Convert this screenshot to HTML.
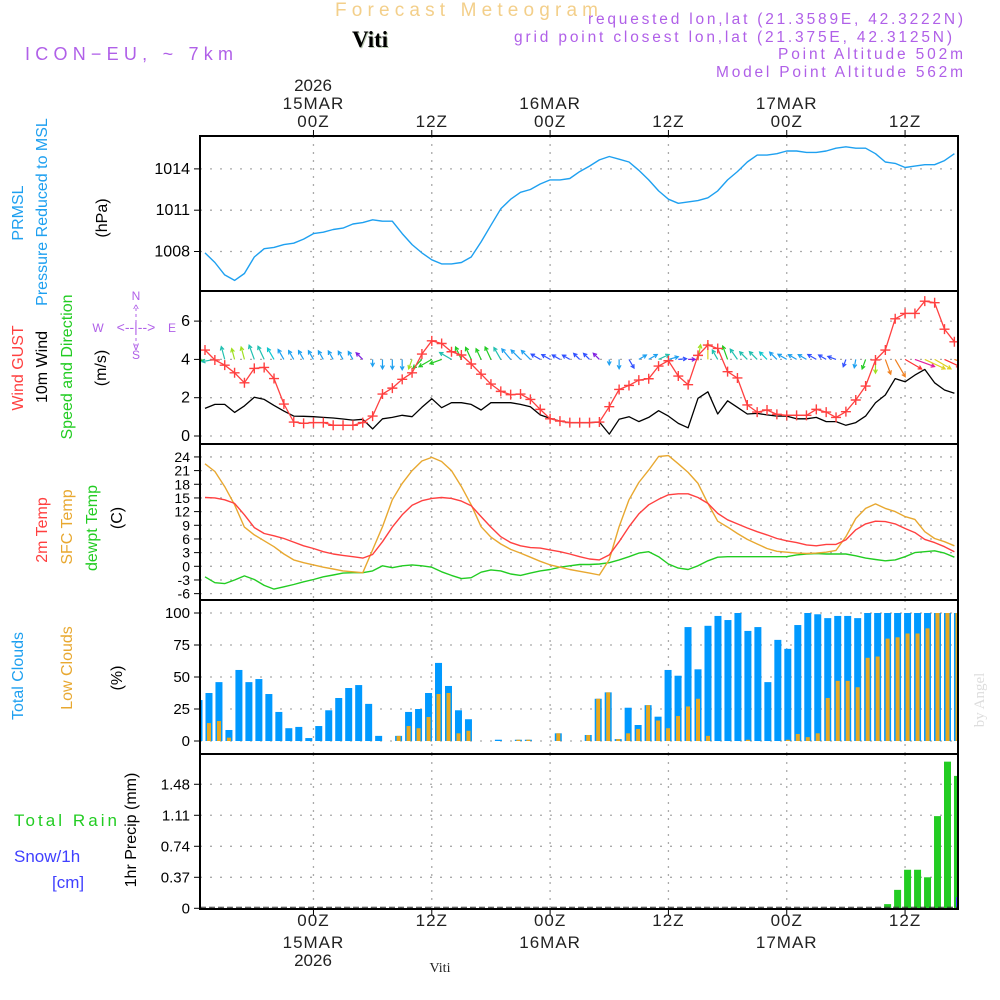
<!DOCTYPE html>
<html><head><meta charset="utf-8"><style>
body{margin:0;background:#fff;}
svg{display:block;font-family:"Liberation Sans",sans-serif;}
</style></head><body>
<svg id="chart" width="1000" height="1000" viewBox="0 0 1000 1000" xmlns="http://www.w3.org/2000/svg">
<defs><clipPath id="plotclip"><rect x="200" y="136" width="758" height="774"/></clipPath></defs>
<g>
<text x="335" y="16" font-size="19" fill="#f3cf8a" textLength="263" lengthAdjust="spacing">Forecast Meteogram</text>
<text x="353" y="48" font-size="23" font-weight="bold" fill="#b8c8b0" font-family="Liberation Serif,serif">Viti</text>
<text x="352" y="47" font-size="23" font-weight="bold" fill="#000" font-family="Liberation Serif,serif">Viti</text>
<text x="25" y="60" font-size="18" fill="#b060e8" textLength="208" lengthAdjust="spacing">ICON−EU, ~ 7km</text>
<text x="588" y="24" font-size="15.5" fill="#b060e8" textLength="375" lengthAdjust="spacing">requested lon,lat (21.3589E, 42.3222N)</text>
<text x="514" y="42" font-size="15.5" fill="#b060e8" textLength="438" lengthAdjust="spacing">grid point closest lon,lat (21.375E, 42.3125N)</text>
<text x="778" y="59" font-size="15.5" fill="#b060e8" textLength="185" lengthAdjust="spacing">Point Altitude 502m</text>
<text x="716" y="77" font-size="15.5" fill="#b060e8" textLength="247" lengthAdjust="spacing">Model Point Altitude 562m</text>
<text transform="translate(984,700) rotate(-90)" text-anchor="middle" font-size="15" fill="#dddddd" font-family="Liberation Serif,serif">by Angel</text>
</g>
<g id="grid"></g>
<g id="marks" clip-path="url(#plotclip)"></g>
<g id="frames"></g>
<g id="labels"></g>
</svg>
<script>
// ---------- data (hourly, index 0 = 13Z 14MAR) ----------
const timeTickHours = [11, 23, 35, 47, 59, 71];
const timeTickTop = ["00Z","12Z","00Z","12Z","00Z","12Z"];
const dateLabels = ["15MAR","16MAR","17MAR"];
const pressure = [1007.9,1007.2,1006.3,1005.9,1006.4,1007.6,1008.2,1008.3,1008.5,1008.6,1008.9,1009.3,1009.4,1009.6,1009.7,1010.0,1010.1,1010.3,1010.2,1010.2,1009.3,1008.5,1007.9,1007.4,1007.1,1007.1,1007.2,1007.6,1008.7,1009.9,1011.1,1011.8,1012.3,1012.5,1012.9,1013.2,1013.2,1013.3,1013.8,1014.2,
1014.65,1014.9,1014.7,1014.5,1013.9,1013.2,1012.4,1011.8,1011.5,1011.6,1011.7,1011.9,1012.4,1013.2,1013.8,1014.5,1015.0,1015.0,1015.1,1015.3,1015.3,1015.2,1015.2,1015.3,1015.5,1015.6,1015.5,1015.5,1015.1,1014.5,1014.4,1014.1,1014.2,1014.3,1014.3,1014.6,1015.1];
const pressureTicks = [1008,1011,1014];
const gust = [4.49,3.97,3.7,3.3,2.78,3.53,3.58,3.0,1.67,0.73,0.66,0.7,0.7,0.56,0.56,0.56,0.7,1.04,2.19,2.5,2.96,3.3,4.28,4.97,4.83,4.4,4.23,3.76,3.23,2.71,2.33,2.16,2.19,1.91,1.39,0.9,0.78,0.7,0.7,0.7,
0.73,1.53,2.43,2.64,2.92,2.99,3.65,3.93,3.13,2.68,4.21,4.75,4.57,3.36,3.03,1.62,1.25,1.36,1.13,1.08,1.08,1.08,1.39,1.25,0.97,1.27,1.88,2.61,3.97,4.49,6.12,6.4,6.4,7.04,6.96,5.58,4.92];
const wind10 = [1.44,1.65,1.65,1.23,1.57,2.02,1.91,1.6,1.3,1.04,1.03,1.01,0.97,0.94,0.89,0.83,0.87,0.37,0.9,0.97,1.08,1.01,1.5,1.95,1.48,1.74,1.74,1.65,1.36,1.74,1.74,1.74,1.65,1.53,1.1,0.92,0.78,0.7,0.7,0.7,
0.73,0.1,0.87,1.01,0.75,0.97,1.32,1.04,0.66,0.43,1.97,2.31,1.15,1.84,1.5,1.15,1.18,1.1,1.04,1.04,0.9,0.9,0.97,0.75,0.75,0.56,0.7,1.04,1.74,2.14,3.0,2.83,3.18,3.48,2.78,2.4,2.23];
const windDir = [255,260,345,345,345,340,335,330,330,330,330,330,330,330,330,330,315,180,180,180,180,200,225,240,250,300,335,335,335,335,330,320,315,315,300,300,300,300,315,315,
315,180,180,150,60,60,65,75,85,90,10,0,330,340,325,315,315,315,315,300,300,300,300,300,290,200,190,200,180,160,150,120,110,115,120,115,110];
const windColor = ["#22cc22","#20c0b0","#20c0b0","#a0e020","#a0e020","#20c0b0","#20c0b0","#10c8d0","#1ea0f0","#1ea0f0","#1ea0f0","#1ea0f0","#1ea0f0","#1ea0f0","#1ea0f0","#1ea0f0","#8020e0","#1ea0f0","#1ea0f0","#1ea0f0","#1ea0f0","#a0e020","#22cc22","#22cc22","#22cc22","#20c0b0","#22cc22","#22cc22","#22cc22","#22cc22","#20c0b0","#1ea0f0","#1ea0f0","#1ea0f0","#3050ff","#3050ff","#3050ff","#3050ff","#3050ff","#3050ff",
"#8020e0","#1ea0f0","#1ea0f0","#3050ff","#1ea0f0","#1ea0f0","#20c0b0","#1ea0f0","#3050ff","#8020e0","#a0e020","#e0d020","#20c0b0","#22cc22","#20c0b0","#20c0b0","#20c0b0","#10c8d0","#1ea0f0","#1ea0f0","#1ea0f0","#1ea0f0","#3050ff","#3050ff","#3050ff","#3050ff","#1ea0f0","#22cc22","#a0e020","#f08020","#f08020","#ff3030","#e020a0","#e0d020","#e0d020","#ff3030","#f08020"];
const windTicks = [0,2,4,6];
const temp2m = [15.1,15.0,14.6,13.8,11.3,8.5,7.2,6.7,6.1,5.3,4.5,3.9,3.2,2.7,2.4,2.1,1.8,2.6,5.4,8.6,11.3,13.4,14.4,14.9,15.1,14.9,14.3,13.3,10.9,8.6,6.5,5.2,4.5,4.1,4.0,3.6,3.2,2.7,2.1,1.6,
1.4,2.5,5.4,8.7,11.5,13.5,14.7,15.7,15.9,15.9,15.1,13.8,11.6,10.2,9.3,8.4,7.6,6.9,6.1,5.6,5.2,4.7,4.5,4.8,4.8,5.8,8.0,9.3,9.9,9.8,9.3,8.3,7.4,5.9,5.2,4.3,3.2];
const tempSfc = [22.5,20.8,17.5,13.5,8.6,6.9,5.6,4.3,2.7,1.4,0.8,0.3,-0.2,-0.6,-1.0,-1.2,-1.4,3.6,8.7,14.6,18.2,21.0,23.1,23.9,23.0,21.0,17.5,13.5,8.7,6.4,4.9,3.7,2.9,2.0,1.1,0.3,-0.2,-0.7,-1.1,-1.5,
-1.9,1.5,8.7,14.6,18.4,21.1,24.1,24.3,22.5,20.6,18.2,13.8,9.9,8.6,7.2,5.9,4.9,3.9,3.3,3.1,2.9,2.8,2.9,3.1,3.5,6.5,10.5,12.7,13.7,12.7,12.0,10.9,10.3,7.6,6.1,5.4,4.5];
const dewpt = [-2.3,-3.6,-3.8,-3.0,-2.1,-2.9,-4.2,-5.0,-4.5,-4.0,-3.4,-2.9,-2.3,-1.9,-1.5,-1.4,-1.4,-1.0,0.1,-0.3,0.1,0.3,0.1,-0.2,-1.2,-2.0,-2.7,-2.5,-1.3,-0.8,-1.0,-1.7,-2.0,-1.5,-1.0,-0.7,-0.2,0.1,0.4,0.4,
0.5,0.8,1.4,2.1,2.9,3.2,2.1,0.5,-0.4,-0.7,0.1,1.2,2.0,2.1,2.1,2.1,2.1,2.1,2.1,2.1,2.5,2.7,2.8,2.7,2.7,2.7,2.3,1.8,1.5,1.2,1.4,2.1,3.0,3.2,3.4,2.9,2.0];
const tempTicks = [-6,-3,0,3,6,9,12,15,18,21,24];
const cloudTotal = [32,37.5,46,8.6,55.5,46,48.4,36.7,22.7,10,11,2.3,11.7,24,33.6,41.4,43.7,29,4,0,4,22.7,25,37.5,61,43,24,17,0,0,1,0,1,1,0,0,6,0,0,4.7,
33,38,1.5,26,12.5,28,19,55.5,51,89,56,90,97.7,94.5,100,86,89,46,79,72,90.6,100,99,96,97.7,97.7,96,100,100,100,100,100,100,100,100,100,100];
const cloudLow = [12.5,14,15.6,2.6,0,0,0,0,0,0,0,0,0,0,0,0,0,0,0,0,4,11.7,10,18.75,36.7,37.5,6,8,0,0,0,0,1,1,0,0,6,0,0,4.7,
33,38,1.5,6,9.4,28,16,10,19.5,27,33,4,0,0,0,1,0,0,0,1,5.5,3,6,33.6,47,47,42,65,66,80,81,84,84,88,100,100,100];
const cloudTicks = [0,25,50,75,100];
const rain = [0,0,0,0,0,0,0,0,0,0,0,0,0,0,0,0,0,0,0,0,0,0,0,0,0,0,0,0,0,0,0,0,0,0,0,0,0,0,0,0,
0,0,0,0,0,0,0,0,0,0,0,0,0,0,0,0,0,0,0,0,0,0,0,0,0,0,0,0,0,0.05,0.22,0.46,0.46,0.37,1.10,1.75,1.58];
const snow = [0,0,0,0,0,0,0,0,0,0,0,0,0,0,0,0,0,0,0,0,0,0,0,0,0,0,0,0,0,0,0,0,0,0,0,0,0,0,0,0,
0,0,0,0,0,0,0,0,0,0,0,0,0,0,0,0,0,0,0,0,0,0,0,0,0,0,0,0,0,0,0,0,0,0,0,0,0.135];
const rainTicks = [0,0.37,0.74,1.11,1.48];
const rainTickText = ["0","0.37","0.74","1.11","1.48"];

// ---------- scales ----------
const X = h => 205 + h*9.86;
const barX = i => 199 + i*9.98;
const pY = p => 251.5 - (p-1008)*13.77;
const wY = v => 436 - v*19.15;
const tY = t => 566.3 - t*4.557;
const cY = c => 741 - c*1.28;
const rY = r => 908.3 - r*83.8;
const panels = [[136,291],[291,444],[444,600],[600,754],[754,909]];

const NS="http://www.w3.org/2000/svg";
function mk(tag, attrs, parent){const e=document.createElementNS(NS,tag);for(const k in attrs)e.setAttribute(k,attrs[k]);parent.appendChild(e);return e;}
const grid=document.getElementById('grid'), marks=document.getElementById('marks'), frames=document.getElementById('frames'), labels=document.getElementById('labels');

timeTickHours.forEach(h=>{
  panels.forEach(([a,b])=>{
    const l=mk('line',{x1:X(h),x2:X(h),y1:a,y2:b,stroke:'#aaa','stroke-width':1.3,'stroke-dasharray':'2,6'},grid);
    
    
  });
});
function yAxis(ticks, scale, texts, fs, name){
  ticks.forEach((t,k)=>{
    const y=scale(t);
    const l=mk('line',{x1:200,x2:958,y1:y,y2:y,stroke:'#aaa','stroke-width':1.3,'stroke-dasharray':'2,8'},grid);
    
    
    mk('line',{x1:194,x2:200,y1:y,y2:y,stroke:'#000','stroke-width':1},frames);
    const tx=mk('text',{x:190,y:y+5,'text-anchor':'end','font-size':fs,fill:'#000'},labels);
    tx.textContent = texts ? texts[k] : String(t);
    
    
  });
}
yAxis(pressureTicks,pY,null,16,'pressure');
yAxis(windTicks,wY,null,16,'wind');
yAxis(tempTicks,tY,null,14,'temp');
yAxis(cloudTicks,cY,null,15,'cloud');
yAxis(rainTicks,rY,rainTickText,15,'precip');

function line(data, scale, color, name, w){
  const d=data.map((v,i)=>(i?'L':'M')+X(i).toFixed(1)+','+scale(v).toFixed(1)).join('');
  const p=mk('path',{d:d,fill:'none',stroke:color,'stroke-width':w||1.4,'stroke-linejoin':'round'},marks);
  
  
}
line(pressure,pY,'#1ea0f0','pressure-line');
cloudTotal.forEach((v,i)=>{
  const r=mk('rect',{x:barX(i)-3.5,y:cY(v),width:7,height:cY(0)-cY(v),fill:'#0099ff'},marks);
  
  
});
cloudLow.forEach((v,i)=>{
  if(v<=0) return;
  const r=mk('rect',{x:barX(i)-2,y:cY(v),width:4,height:cY(0)-cY(v),fill:'#e8a820'},marks);
  
  
});
rain.forEach((v,i)=>{
  if(v<=0) return;
  const r=mk('rect',{x:barX(i)-3.5,y:rY(v),width:7,height:rY(0)-rY(v),fill:'#22cc22'},marks);
  
  
});
snow.forEach((v,i)=>{
  if(v<=0) return;
  const r=mk('rect',{x:barX(i)-1.5,y:rY(v),width:3,height:rY(0)-rY(v),fill:'#4040ff'},marks);
  
  
});
mk('line',{x1:200,x2:958,y1:rY(0)-1,y2:rY(0)-1,stroke:'#333','stroke-width':1,'stroke-dasharray':'6,3'},marks);
windDir.forEach((deg,i)=>{
  const L=5+wind10[i]*5, a=deg*Math.PI/180;
  const x0=X(i), y0=wY(4);
  const x1=x0+L*Math.sin(a), y1=y0-L*Math.cos(a);
  const h1=a+Math.PI-0.5, h2=a+Math.PI+0.5, hl=4;
  const g=mk('path',{d:`M${x0},${y0}L${x1},${y1}M${x1+hl*Math.sin(h1)},${y1-hl*Math.cos(h1)}L${x1},${y1}L${x1+hl*Math.sin(h2)},${y1-hl*Math.cos(h2)}`,fill:'none',stroke:windColor[i],'stroke-width':1.2},marks);
  
  
});
line(wind10,wY,'#000','wind-10m-line',1.3);
line(gust,wY,'#ff4040','wind-gust-line',1.3);
gust.forEach((v,i)=>{
  const x=X(i), y=wY(v);
  const p=mk('path',{d:`M${x-5},${y}H${x+5}M${x},${y-5}V${y+5}`,stroke:'#ff4040','stroke-width':1.4},marks);
  
  
});
line(dewpt,tY,'#22cc22','dewpoint-line');
line(tempSfc,tY,'#e8a830','sfc-temp-line');
line(temp2m,tY,'#ff4040','temp-2m-line');

panels.forEach(([a,b])=>{
  const r=mk('rect',{x:200,y:a,width:758,height:b-a,fill:'none',stroke:'#000','stroke-width':2},frames);
  
  
});
timeTickHours.forEach((h,k)=>{
  const x=X(h);
  mk('line',{x1:x,x2:x,y1:130,y2:136,stroke:'#000'},frames);
  mk('line',{x1:x,x2:x,y1:909,y2:915,stroke:'#000'},frames);
  const t=mk('text',{x:x,y:127,'text-anchor':'middle','font-size':17,fill:'#222','letter-spacing':1},labels);
  t.textContent=timeTickTop[k];
  
  
  const b=mk('text',{x:x,y:926,'text-anchor':'middle','font-size':17,fill:'#222','letter-spacing':1},labels);
  b.textContent=timeTickTop[k];
  
  
  if(k%2===0){
    const d=mk('text',{x:x,y:109,'text-anchor':'middle','font-size':17,fill:'#222','letter-spacing':1},labels);
    d.textContent=dateLabels[k/2];
    
    
    const e=mk('text',{x:x,y:948,'text-anchor':'middle','font-size':17,fill:'#222','letter-spacing':1},labels);
    e.textContent=dateLabels[k/2];
    
    
  }
});
function txt(x,y,s,fs,fill,name,rot,anchor){
  const t=mk('text',{'font-size':fs,fill:fill,'text-anchor':anchor||'middle'},labels);
  if(rot) t.setAttribute('transform',`translate(${x},${y}) rotate(-90)`); else {t.setAttribute('x',x);t.setAttribute('y',y);}
  t.textContent=s;
  
  
  return t;
}
txt(313,91,'2026',17,'#222','top-year-label');
txt(313,966,'2026',17,'#222','bottom-year-label');
txt(440,972,'Viti',14,'#222','bottom-location-label').setAttribute('font-family','Liberation Serif,serif');
txt(23,213,'PRMSL',16,'#1ea0f0','prmsl-label',true);
txt(47,212,'Pressure Reduced to MSL',16,'#1ea0f0','pressure-title',true);
txt(107,218,'(hPa)',16,'#000','pressure-unit',true);
txt(23,368,'Wind GUST',16,'#ff4040','wind-gust-title',true);
txt(47,367,'10m Wind',16,'#000','wind-10m-title',true);
txt(72,367,'Speed and Direction',16,'#22cc22','wind-dir-title',true);
txt(106,368,'(m/s)',16,'#000','wind-unit',true);
txt(136,300,'N',12,'#b060e8','compass-n');
txt(136,359,'S',12,'#b060e8','compass-s');
txt(98,332,'W',12,'#b060e8','compass-w');
txt(172,332,'E',12,'#b060e8','compass-e');
txt(136,332,'<--|-->',14,'#b060e8','compass-ew');
txt(136,313,'^',12,'#b060e8','compass-up');
txt(136,350,'v',12,'#b060e8','compass-down');
mk('line',{x1:136,x2:136,y1:308,y2:346,stroke:'#b060e8','stroke-dasharray':'3,3'},labels);
txt(47,530,'2m Temp',16,'#ff4040','temp-2m-title',true);
txt(72,527,'SFC Temp',16,'#e8a830','sfc-temp-title',true);
txt(97,528,'dewpt Temp',16,'#22cc22','dewpoint-title',true);
txt(122,518,'(C)',16,'#000','temp-unit',true);
txt(23,676,'Total Clouds',16,'#1ea0f0','total-clouds-title',true);
txt(72,668,'Low Clouds',16,'#e8a830','low-clouds-title',true);
txt(122,678,'(%)',16,'#000','cloud-unit',true);
txt(14,826,'Total  Rain',17,'#22cc22','rain-title',false,'start').setAttribute('textLength','103');
txt(14,862,'Snow/1h',17,'#4040ff','snow-title',false,'start');
txt(52,888,'[cm]',17,'#4040ff','snow-unit',false,'start');
txt(136,830,'1hr Precip (mm)',16,'#000','precip-title',true);
</script>
</body></html>
